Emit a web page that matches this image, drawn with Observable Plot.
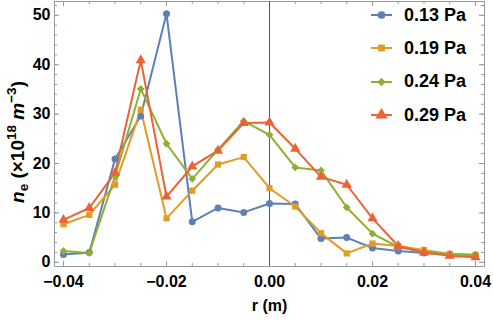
<!DOCTYPE html>
<html><head><meta charset="utf-8">
<script src="https://cdn.jsdelivr.net/npm/d3@7"></script>
<script src="https://cdn.jsdelivr.net/npm/@observablehq/plot@0.6"></script>
<style>
body{margin:0;background:#fff;font-family:"Liberation Sans",Arial,sans-serif;}
#wrap{position:relative;width:493px;height:320px;}
#ylab{position:absolute;left:17px;top:142px;transform:translate(-50%,-50%) rotate(-90deg);white-space:nowrap;font-weight:bold;font-size:19px;line-height:19px;color:#000;}
#ylab sub,#ylab sup{font-size:13.5px;line-height:0;}
#ylab sub{vertical-align:-4px;}
#ylab sup{vertical-align:8px;}
#legend{position:absolute;left:371px;top:0;}
.row{position:absolute;left:0;height:20px;display:flex;align-items:center;white-space:nowrap;font-weight:bold;font-size:18px;}
.row svg{margin-right:12px;}
</style></head><body><div id="wrap"><div id="ylab"><i>n</i><sub>e</sub> (×10<sup>18</sup> <i>m</i><sup>−3</sup>)</div><div id="legend"></div></div>
<script>
const r = [-0.04,-0.035,-0.03,-0.025,-0.02,-0.015,-0.01,-0.005,0,0.005,0.01,0.015,0.02,0.025,0.03,0.035,0.04];
const seriesNames = ["0.13 Pa","0.19 Pa","0.24 Pa","0.29 Pa"];
const ne013 = [1.6,2.0,20.9,29.6,50.3,8.2,11.0,10.1,11.9,11.8,4.8,5.0,2.9,2.3,1.9,1.6,1.5];
const ne019 = [7.7,9.6,15.7,30.9,8.9,14.5,19.8,21.3,15.0,11.3,5.9,1.8,3.8,3.3,2.5,1.7,1.5];
const ne024 = [2.3,1.9,17.4,35.1,24.0,16.9,22.8,28.6,25.8,19.2,18.6,11.1,5.8,3.1,2.1,1.7,1.5];
const ne029 = [8.6,11.0,18.1,40.9,13.3,19.4,22.6,28.2,28.3,23.0,17.3,15.7,8.9,3.3,2.0,1.3,1.0];
const colors = ["#5E81B5","#E19C24","#8FB032","#EB6235"];
const symbols = ["circle","square","diamond2","triangle"];
const xMajor = [-0.04,-0.02,0,0.02,0.04];
const xMinor = r;
const yMajor = [0,10,20,30,40,50];
const yMinor = [0,2,4,6,8,10,12,14,16,18,20,22,24,26,28,30,32,34,36,38,40,42,44,46,48,50,52];

const allSeries = [ne013, ne019, ne024, ne029];
const data = [];
allSeries.forEach((vals, i) => vals.forEach((v, j) => data.push({series: seriesNames[i], r: r[j], ne: v})));

const W = 493, H = 320, mL = 54, mR = 9, mT = 1, mB = 54;
const pw = W - mL - mR, ph = H - mT - mB;
const grey = "#9a9a9a";
const fmt = d => d3.format(".2f")(d);

const chart = Plot.plot({
  width: W, height: H, marginLeft: mL, marginRight: mR, marginTop: mT, marginBottom: mB,
  style: {fontFamily: '"Liberation Sans", Arial, sans-serif', fontSize: "16px", fontWeight: "bold", color: "#000", background: "#fff"},
  x: {domain: [-0.04175, 0.04175]},
  y: {domain: [-0.85, 52.8]},
  color: {domain: seriesNames, range: colors},
  symbol: {domain: seriesNames, range: symbols},
  marks: [
    Plot.frame({stroke: grey}),
    Plot.tickX(xMinor, {x: d => d, insetTop: ph - 3, stroke: grey}),
    Plot.tickX(xMajor, {x: d => d, insetTop: ph - 5, stroke: grey}),
    Plot.tickX(xMinor, {x: d => d, insetBottom: ph - 3, stroke: grey}),
    Plot.tickX(xMajor, {x: d => d, insetBottom: ph - 5, stroke: grey}),
    Plot.tickY(yMinor, {y: d => d, insetRight: pw - 3, stroke: grey}),
    Plot.tickY(yMajor, {y: d => d, insetRight: pw - 5, stroke: grey}),
    Plot.tickY(yMinor, {y: d => d, insetLeft: pw - 3, stroke: grey}),
    Plot.tickY(yMajor, {y: d => d, insetLeft: pw - 5, stroke: grey}),
    Plot.ruleX([0], {stroke: "#555", strokeWidth: 1}),
    Plot.line(data, {x: "r", y: "ne", z: "series", stroke: "series", strokeWidth: 2}),
    Plot.dot(data, {filter: d => d.series !== "0.29 Pa", x: "r", y: "ne", fill: "series", symbol: "series", r: 3.5, stroke: null}),
    Plot.dot(data, {filter: d => d.series === "0.29 Pa", x: "r", y: "ne", fill: "series", symbol: "series", r: 3.8, stroke: null}),
    Plot.axisX(xMajor, {tickSize: 0, tickPadding: 9, tickFormat: fmt, label: null}),
    Plot.axisY(yMajor, {tickSize: 0, tickPadding: 4, label: null}),
    Plot.text(["r (m)"], {frameAnchor: "bottom", dy: 39, lineAnchor: "middle", fontSize: 16, fontWeight: "bold"})
  ]
});
document.getElementById("wrap").prepend(chart);

// legend
const legend = document.getElementById("legend");
const rowY = [15, 48.3, 81.6, 115];
seriesNames.forEach((name, i) => {
  const row = document.createElement("div");
  row.className = "row";
  row.style.top = (rowY[i] - 10) + "px";
  const s = d3.create("svg").attr("width", 21).attr("height", 14);
  s.append("line").attr("x1", 0).attr("x2", 21).attr("y1", 7).attr("y2", 7).attr("stroke", colors[i]).attr("stroke-width", 2);
  const sym = [d3.symbolCircle, d3.symbolSquare, d3.symbolDiamond2, d3.symbolTriangle][i];
  const size = i === 3 ? 3.6 * 3.6 * Math.PI * 1.6 : 3.6 * 3.6 * Math.PI * 1.15;
  s.append("path").attr("d", d3.symbol(sym, size)()).attr("transform", "translate(10.5,7)").attr("fill", colors[i]);
  row.appendChild(s.node());
  const t = document.createElement("span");
  t.textContent = name;
  row.appendChild(t);
  legend.appendChild(row);
});
</script>
</body></html>
